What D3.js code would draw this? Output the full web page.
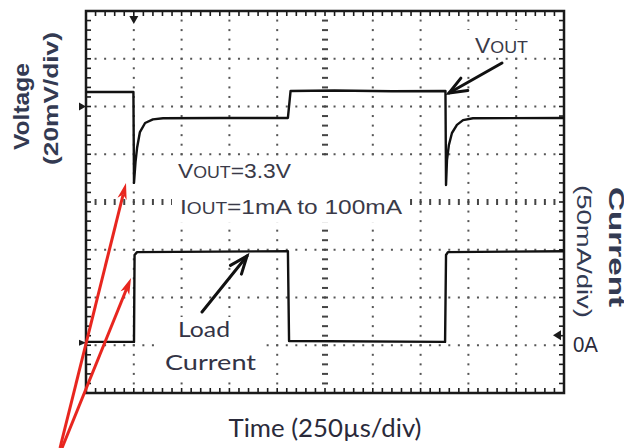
<!DOCTYPE html>
<html><head><meta charset="utf-8">
<script src="https://cdn.jsdelivr.net/npm/d3@7"></script>
<style>html,body{margin:0;padding:0;background:#fff;}svg{display:block;}</style>
</head><body>
<script>
// ---- data ----
// time in µs (250 µs/div), VOUT deviation in mV (20 mV/div, relative to CH1 marker)
const vTime = [0, 248, 251, 259, 267, 282, 309, 350, 403, 700, 1056, 1070, 1300, 1600, 1880, 1883, 1888, 1898, 1914, 1940, 1972, 2024, 2500];
const vOut  = [6.1, 6.1, -32.0, -23.2, -17.4, -10.7, -6.9, -5.4, -4.9, -4.8, -4.8, 6.5, 6.7, 6.4, 6.5, -32.9, -22.4, -16.1, -11.1, -7.7, -5.7, -4.9, -4.8];
// load current in mA (50 mA/div)
const iTime = [0, 251, 254, 267, 1056, 1062, 1878, 1883, 1893, 2500];
const iLoad = [1, 1, 92, 95, 96, 2, 1, 92, 95, 96];

const xDivs = 10, yDivs = 8, minor = 5;
const texts = {
  vAxis: "Voltage", vScale: "(20mV/div)",
  iAxis: "Current", iScale: "(50mA/div)",
  tAxis: "Time (250µs/div)", zero: "0A"
};

const W = 624, H = 448;
const L = 86, R = 564, T = 11, B = 393;
const svg = d3.select("body").append("svg").attr("width", W).attr("height", H);

const x = d3.scaleLinear().domain([0, 2500]).range([L, R]);
const yV = d3.scaleLinear().domain([-120, 40]).range([B, T]);
const yI = d3.scaleLinear().domain([-52.5, 347.5]).range([B, T]);
const gx = d3.scaleLinear().domain([0, xDivs]).range([L, R]);
const gy = d3.scaleLinear().domain([-yDivs/2, yDivs/2]).range([B, T]);

const g = svg.append("g");
const ink = "#1a1a1a";

// dotted grid
for (let i = 1; i < xDivs; i++) {
  if (i === xDivs/2) continue;
  for (let k = 1; k < yDivs*minor; k++) {
    g.append("rect").attr("x", gx(i)-1).attr("y", gy(-yDivs/2 + k/minor)-1)
      .attr("width", 2).attr("height", 2).attr("fill", "#555");
  }
}
for (let j = 1; j < yDivs; j++) {
  if (j === yDivs/2) continue;
  for (let k = 1; k < xDivs*minor; k++) {
    g.append("rect").attr("x", gx(k/minor)-1).attr("y", gy(-yDivs/2 + j)-1)
      .attr("width", 2).attr("height", 2).attr("fill", "#555");
  }
}
// center lines with ticks
const cx = gx(xDivs/2), cy = gy(0);
for (let k = 1; k < yDivs*minor; k++) {
  const yy = gy(-yDivs/2 + k/minor);
  g.append("line").attr("x1", cx-3).attr("x2", cx+3).attr("y1", yy).attr("y2", yy)
    .attr("stroke", "#444").attr("stroke-width", 2);
}
for (let k = 1; k < xDivs*minor; k++) {
  const xx = gx(k/minor);
  g.append("line").attr("x1", xx).attr("x2", xx).attr("y1", cy-3).attr("y2", cy+3)
    .attr("stroke", "#444").attr("stroke-width", 2);
}
// frame ticks
for (let k = 1; k < xDivs*minor; k++) {
  const xx = gx(k/minor);
  g.append("line").attr("x1", xx).attr("x2", xx).attr("y1", T).attr("y2", T+5).attr("stroke", ink).attr("stroke-width", 1.6);
  g.append("line").attr("x1", xx).attr("x2", xx).attr("y1", B).attr("y2", B-5).attr("stroke", ink).attr("stroke-width", 1.6);
}
for (let k = 1; k < yDivs*minor; k++) {
  const yy = gy(-yDivs/2 + k/minor);
  g.append("line").attr("x1", L).attr("x2", L+5).attr("y1", yy).attr("y2", yy).attr("stroke", ink).attr("stroke-width", 1.6);
  g.append("line").attr("x1", R).attr("x2", R-5).attr("y1", yy).attr("y2", yy).attr("stroke", ink).attr("stroke-width", 1.6);
}

// white boxes behind in-plot labels (they mask the graticule dots)
const boxes = [[464, 30, 82, 26], [172, 158, 236, 64], [160, 317, 102, 60]];
boxes.forEach(b => g.append("rect").attr("x", b[0]).attr("y", b[1]).attr("width", b[2]).attr("height", b[3]).attr("fill", "#fff"));

g.append("rect").attr("x", L).attr("y", T).attr("width", R-L).attr("height", B-T)
  .attr("fill", "none").attr("stroke", ink).attr("stroke-width", 2.5);

// traces
const lineV = d3.line().x((d, i) => x(vTime[i])).y(d => yV(d));
const lineI = d3.line().x((d, i) => x(iTime[i])).y(d => yI(d));
g.append("path").attr("d", lineV(vOut)).attr("fill", "none").attr("stroke", "#111").attr("stroke-width", 2.4).attr("stroke-linejoin", "round");
g.append("path").attr("d", lineI(iLoad)).attr("fill", "none").attr("stroke", "#111").attr("stroke-width", 2.4).attr("stroke-linejoin", "round");

// markers
const trigX = x(250);
g.append("path").attr("d", `M${trigX-4.5},${T+5}L${trigX+4.5},${T+5}L${trigX},${T+13}Z`).attr("fill", ink);
const m1 = yV(0);
g.append("path").attr("d", `M${L-7},${m1-4}L${L-7},${m1+4}L${L},${m1}Z`).attr("fill", ink);
const m2 = yI(0);
g.append("path").attr("d", `M${L-7},${m2-3}L${L-7},${m2+3}L${L},${m2}Z`).attr("fill", ink);
const m3 = yI(8);
g.append("path").attr("d", `M${R-3},${m3-5}L${R-3},${m3+5}L${R-11},${m3}Z`).attr("fill", ink);

// arrows
function arrow(x1, y1, x2, y2, color, w, hl, ha, filled) {
  const a = Math.atan2(y2 - y1, x2 - x1);
  const p1 = [x2 - hl*Math.cos(a - ha), y2 - hl*Math.sin(a - ha)];
  const p2 = [x2 - hl*Math.cos(a + ha), y2 - hl*Math.sin(a + ha)];
  if (filled) {
    const n = [x2 - hl*0.7*Math.cos(a), y2 - hl*0.7*Math.sin(a)];
    svg.append("line").attr("x1", x1).attr("y1", y1).attr("x2", n[0]).attr("y2", n[1]).attr("stroke", color).attr("stroke-width", w);
    svg.append("path").attr("d", `M${x2},${y2}L${p1[0]},${p1[1]}L${n[0]},${n[1]}L${p2[0]},${p2[1]}Z`).attr("fill", color);
  } else {
    svg.append("line").attr("x1", x1).attr("y1", y1).attr("x2", x2).attr("y2", y2).attr("stroke", color).attr("stroke-width", w).attr("stroke-linecap", "round");
    svg.append("path").attr("d", `M${p1[0]},${p1[1]}L${x2},${y2}L${p2[0]},${p2[1]}`).attr("fill", "none").attr("stroke", color).attr("stroke-width", w).attr("stroke-linecap", "round").attr("stroke-linejoin", "miter");
  }
}

// text
const tcol = "#333a52";
svg.append("text").attr("transform", "translate(29,106.5) rotate(-90)").attr("text-anchor", "middle")
  .attr("font-family", "Liberation Sans").attr("font-weight", "bold").attr("font-size", 22).attr("fill", tcol)
  .attr("textLength", 87).attr("lengthAdjust", "spacingAndGlyphs").text(texts.vAxis);
svg.append("text").attr("transform", "translate(58,98.5) rotate(-90)").attr("text-anchor", "middle")
  .attr("font-family", "Liberation Sans").attr("font-weight", "bold").attr("font-size", 20).attr("fill", tcol)
  .attr("textLength", 133).attr("lengthAdjust", "spacingAndGlyphs").text(texts.vScale);
svg.append("text").attr("transform", "translate(577,251.5) rotate(90)").attr("text-anchor", "middle")
  .attr("font-family", "Liberation Sans").attr("font-size", 20).attr("fill", tcol)
  .attr("textLength", 133).attr("lengthAdjust", "spacingAndGlyphs").text(texts.iScale);
svg.append("text").attr("transform", "translate(609,247) rotate(90)").attr("text-anchor", "middle")
  .attr("font-family", "Liberation Sans").attr("font-weight", "bold").attr("font-size", 22).attr("fill", tcol)
  .attr("textLength", 120).attr("lengthAdjust", "spacingAndGlyphs").text(texts.iAxis);
svg.append("text").attr("x", 573).attr("y", 352)
  .attr("font-family", "Liberation Sans").attr("font-size", 22).attr("fill", "#2a2a3a")
  .attr("textLength", 25).attr("lengthAdjust", "spacingAndGlyphs").text(texts.zero);
svg.append("text").attr("x", 325).attr("y", 437).attr("text-anchor", "middle")
  .attr("font-family", "Lato").attr("font-size", 25).attr("fill", "#2a2a3a")
  .attr("textLength", 193).attr("lengthAdjust", "spacingAndGlyphs").text(texts.tAxis);

function smallcaps(xp, yp, parts, size, len) {
  const t = svg.append("text").attr("x", xp).attr("y", yp).attr("font-family", "Liberation Sans")
    .attr("font-size", size).attr("fill", "#3a3a48").attr("textLength", len).attr("lengthAdjust", "spacingAndGlyphs");
  parts.forEach(p => t.append("tspan").attr("font-size", p[1] ? size*0.78 : size).text(p[0]));
}
smallcaps(475, 53, [["V", 0], ["OUT", 1]], 22, 53);
smallcaps(178, 178, [["V", 0], ["OUT", 1], ["=3.3V", 0]], 21, 113);
smallcaps(180, 214, [["I", 0], ["OUT", 1], ["=1mA to 100mA", 0]], 21, 222);

svg.append("text").attr("x", 178).attr("y", 337)
  .attr("font-family", "Lato").attr("font-size", 22).attr("fill", "#333345")
  .attr("textLength", 52).attr("lengthAdjust", "spacingAndGlyphs").text("Load");
svg.append("text").attr("x", 165).attr("y", 370)
  .attr("font-family", "Lato").attr("font-size", 22).attr("fill", "#333345")
  .attr("textLength", 91).attr("lengthAdjust", "spacingAndGlyphs").text("Current");

arrow(502, 63, 449, 93, "#111", 3, 19, 0.38, false);
arrow(202, 312, 247, 256, "#111", 3, 19, 0.38, false);
arrow(60, 448, 126, 183, "#e8261f", 3, 17, 0.28, true);
arrow(62, 448, 131, 278, "#e8261f", 3, 17, 0.28, true);
</script>
</body></html>
